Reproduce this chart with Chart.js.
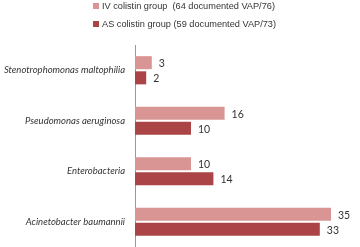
<!DOCTYPE html>
<html>
<head>
<meta charset="utf-8">
<script src="https://cdn.jsdelivr.net/npm/chart.js@4"></script>
<style>
  html, body { margin: 0; padding: 0; background: #fff; }
  #wrap { position: relative; width: 360px; height: 247px; }
  #legend { position: absolute; left: 93px; top: 0; font-family: "Liberation Sans", sans-serif; font-size: 9.2px; color: #333; }
  .item { position: absolute; left: 0; white-space: pre; height: 12px; line-height: 12px; }
  .box { display: inline-block; width: 6px; height: 6px; margin-right: 3px; vertical-align: 0px; }
</style>
</head>
<body>
<div id="wrap">
  <canvas id="bacteriaChart" width="360" height="247"></canvas>
  <div id="legend"></div>
</div>
<script>
// 데이터
const categories = ['Stenotrophomonas maltophilia', 'Pseudomonas aeruginosa', 'Enterobacteria', 'Acinetobacter baumannii'];
const seriesNames = ['IV colistin group  (64 documented VAP/76)', 'AS colistin group (59 documented VAP/73)'];
const ivValues = [3, 16, 10, 35];
const asValues = [2, 10, 14, 33];
const seriesColors = ['#d99594', '#ab4446'];

// 범례 (HTML)
const legendEl = document.getElementById('legend');
seriesNames.forEach((name, i) => {
    const row = document.createElement('div');
    row.className = 'item';
    row.style.top = (i === 0 ? 0 : 18) + 'px';
    row.innerHTML = '<span class="box" style="background:' + seriesColors[i] + '"></span>' + name;
    legendEl.appendChild(row);
});

// 막대 끝 숫자 표시
const valueLabels = {
    id: 'valueLabels',
    afterDatasetsDraw(chart) {
        const ctx = chart.ctx;
        ctx.save();
        ctx.font = '10.5px Lato, sans-serif';
        ctx.fillStyle = '#333';
        ctx.textBaseline = 'middle';
        chart.data.datasets.forEach((ds, di) => {
            chart.getDatasetMeta(di).data.forEach((bar, i) => {
                ctx.fillText(ds.data[i], bar.x + 7, bar.y + 1);
            });
        });
        ctx.restore();
    }
};

new Chart(document.getElementById('bacteriaChart'), {
    type: 'bar',
    data: {
        labels: categories,
        datasets: [
            { label: seriesNames[0], data: ivValues, backgroundColor: seriesColors[0] },
            { label: seriesNames[1], data: asValues, backgroundColor: seriesColors[1] }
        ]
    },
    options: {
        indexAxis: 'y',
        responsive: false,
        animation: false,
        layout: { padding: { top: 45, right: 1, bottom: 0, left: 0 } },
        datasets: { bar: { categoryPercentage: 0.6, barPercentage: 0.86 } },
        plugins: { legend: { display: false }, tooltip: { enabled: false } },
        scales: {
            x: { display: false, min: 0, max: 40 },
            y: {
                // 축 위치 고정, 라벨 패딩 제거
                afterFit(scale) {
                    scale.width = 135;
                    scale.paddingTop = 0;
                    scale.paddingBottom = 0;
                },
                grid: { display: false, drawTicks: false },
                border: { display: true, color: '#999' },
                ticks: {
                    color: '#333',
                    padding: 10,
                    font: { family: 'Lato, sans-serif', size: 9.5, style: 'italic' }
                }
            }
        }
    },
    plugins: [valueLabels]
});
</script>
</body>
</html>
